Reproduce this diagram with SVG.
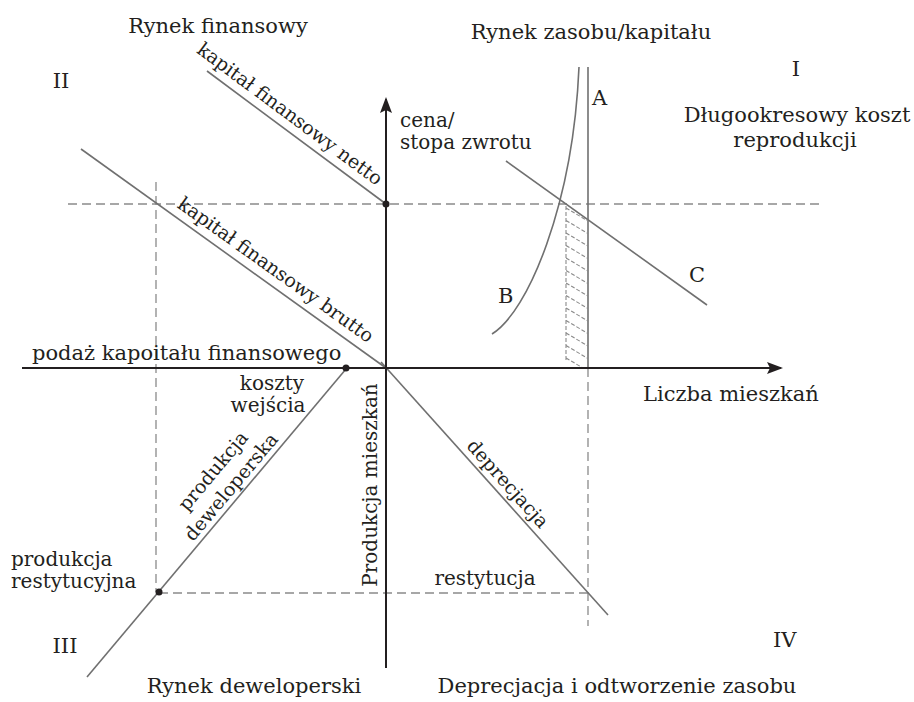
<svg xmlns="http://www.w3.org/2000/svg" width="914" height="702" viewBox="0 0 914 702">
<style>
text{font-family:"DejaVu Serif","Liberation Serif",serif;fill:#231f20;font-size:21px}
.s{font-size:19px}
.t{font-size:20px}
.m{text-anchor:middle}
.axis{stroke:#231f20;stroke-width:2;fill:none}
.ln{stroke:#707070;stroke-width:1.6;fill:none}
.dash{stroke:#8a8a8a;stroke-width:1.3;stroke-dasharray:9,5;fill:none}
.hatch{stroke:#8a8a8a;stroke-width:1.1;stroke-dasharray:4,2;fill:none}
.dot{fill:#231f20}
</style>
<defs>
<marker id="arr" markerWidth="16" markerHeight="12" refX="14" refY="6" orient="auto" markerUnits="userSpaceOnUse">
<path d="M0,0 L16,6 L0,12 L3,6 z" fill="#231f20"/>
</marker>
<clipPath id="hc"><rect x="566" y="205" width="22" height="162"/></clipPath>
</defs>

<g id="connectors">
<line class="dash" x1="68" y1="204" x2="820" y2="204"/>
<line class="dash" x1="156" y1="182" x2="156" y2="592"/>
<line class="dash" x1="159" y1="593" x2="588" y2="593"/>
<line class="dash" x1="588" y1="368" x2="588" y2="626"/>
<line class="ln" x1="207" y1="71" x2="386" y2="204"/>
<line class="ln" x1="81" y1="149" x2="386" y2="368"/>
<line class="ln" x1="381" y1="362" x2="608" y2="615"/>
<line class="ln" x1="87" y1="677" x2="346" y2="369"/>
<line class="ln" x1="588" y1="67" x2="588" y2="368"/>
<line class="ln" x1="506" y1="161" x2="707" y2="305"/>
<path class="ln" d="M492,334 C528,312 573,205 579,67"/>
<line class="axis" x1="386" y1="668" x2="386" y2="99" marker-end="url(#arr)"/>
<line class="axis" x1="22" y1="368" x2="781" y2="368" marker-end="url(#arr)"/>
</g>

<g id="hatching">
<line class="hatch" x1="566" y1="206" x2="566" y2="362"/>
<g clip-path="url(#hc)">
<line class="hatch" x1="566" y1="208" x2="588" y2="221"/>
<line class="hatch" x1="566" y1="220.5" x2="588" y2="233.5"/>
<line class="hatch" x1="566" y1="233" x2="588" y2="246"/>
<line class="hatch" x1="566" y1="245.5" x2="588" y2="258.5"/>
<line class="hatch" x1="566" y1="258" x2="588" y2="271"/>
<line class="hatch" x1="566" y1="270.5" x2="588" y2="283.5"/>
<line class="hatch" x1="566" y1="283" x2="588" y2="296"/>
<line class="hatch" x1="566" y1="295.5" x2="588" y2="308.5"/>
<line class="hatch" x1="566" y1="308" x2="588" y2="321"/>
<line class="hatch" x1="566" y1="320.5" x2="588" y2="333.5"/>
<line class="hatch" x1="566" y1="333" x2="588" y2="346"/>
<line class="hatch" x1="566" y1="345.5" x2="588" y2="358.5"/>
<line class="hatch" x1="566" y1="358" x2="588" y2="371"/>
</g>
</g>

<g id="points">
<circle class="dot" cx="386" cy="204" r="3.5"/>
<circle class="dot" cx="346" cy="368" r="3.5"/>
<circle class="dot" cx="159" cy="592" r="3.5"/>
</g>

<g id="quadrant-labels">
<text class="m" x="218" y="33">Rynek finansowy</text>
<text class="m" x="591" y="39">Rynek zasobu/kapitału</text>
<text class="m" x="61" y="88">II</text>
<text class="m" x="796" y="76">I</text>
<text class="m" x="65" y="653">III</text>
<text x="773" y="647">IV</text>
<text class="m" x="254" y="693">Rynek deweloperski</text>
<text class="m" x="617" y="693">Deprecjacja i odtworzenie zasobu</text>
</g>

<g id="curve-labels">
<text x="592" y="105">A</text>
<text x="498" y="303">B</text>
<text x="689" y="282">C</text>
<text class="m" x="797" y="122">Długookresowy koszt</text>
<text class="m" x="795" y="147">reprodukcji</text>
</g>

<g id="axis-labels">
<text class="t" x="400" y="127">cena/</text>
<text class="t" x="400" y="149">stopa zwrotu</text>
<text x="32" y="360">podaż kapoitału finansowego</text>
<text x="643" y="401">Liczba mieszkań</text>
<text class="m t" transform="translate(377,485) rotate(-90)">Produkcja mieszkań</text>
</g>

<g id="line-labels">
<text class="m s" transform="translate(286,119) rotate(36.6)">kapitał finansowy netto</text>
<text class="m s" transform="translate(272,275) rotate(35.5)">kapitał finansowy brutto</text>
<text class="m s" transform="translate(503,488) rotate(48.1)">deprecjacja</text>
<text class="m s" transform="translate(218,475) rotate(-50)">produkcja</text>
<text class="m s" transform="translate(236,491) rotate(-50)">deweloperska</text>
<text class="m t" x="272" y="390">koszty</text>
<text class="m t" x="268" y="412">wejścia</text>
<text class="t" x="11" y="566">produkcja</text>
<text class="t" x="11" y="588">restytucyjna</text>
<text class="m t" x="485" y="585">restytucja</text>
</g>
</svg>
